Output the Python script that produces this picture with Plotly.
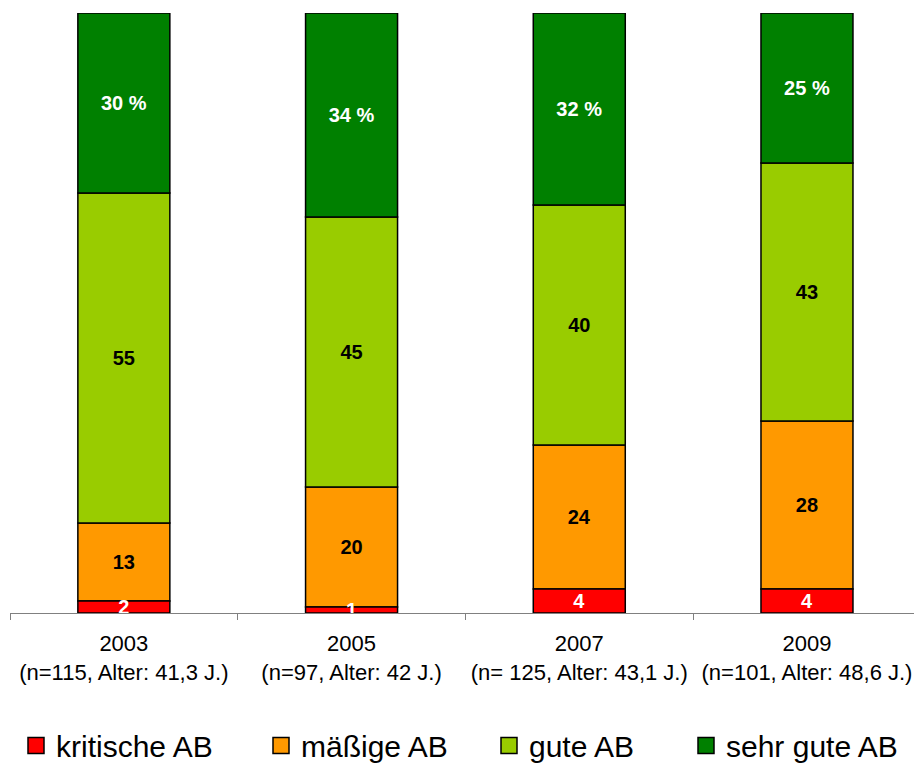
import plotly.graph_objects as go

years = ["2003", "2005", "2007", "2009"]
subtitles = ["(n=115, Alter: 41,3 J.)", "(n=97, Alter: 42 J.)",
             "(n= 125, Alter: 43,1 J.)", "(n=101, Alter: 48,6 J.)"]
series_names = ["kritische AB", "mäßige AB", "gute AB", "sehr gute AB"]
kritische = [2, 1, 4, 4]
maessige = [13, 20, 24, 28]
gute = [55, 45, 40, 43]
sehr_gute = [30, 34, 32, 25]

colors = ["#FF0000", "#FF9900", "#99CC00", "#008000"]
text_colors = ["white", "black", "black", "white"]
templates = ["%{customdata}", "%{customdata}", "%{customdata}", "%{customdata} %"]
legend_ids = ["legend", "legend2", "legend3", "legend4"]
legend_x = [6 / 904, 251 / 904, 479 / 904, 676 / 904]

cats = [f"{y}<br>{s}" for y, s in zip(years, subtitles)]
FONT = "Liberation Sans, Arial, sans-serif"

series = [kritische, maessige, gute, sehr_gute]
# stacked bases computed from the data
bases = []
running = [0] * len(years)
for vals in series:
    bases.append(list(running))
    running = [r + v for r, v in zip(running, vals)]

fig = go.Figure()
# draw red last so its labels sit on top of the neighbouring segment
draw_order = [1, 2, 3, 0]
for i in draw_order:
    fig.add_trace(go.Bar(
        x=cats, y=series[i], base=bases[i], customdata=series[i],
        name=series_names[i], width=0.404,
        marker=dict(color=colors[i], line=dict(color="black", width=1.5)),
        texttemplate=templates[i], textposition="inside", insidetextanchor="middle",
        textangle=0,
        textfont=dict(color=text_colors[i], size=20, family=FONT, weight="bold"),
        constraintext="none", showlegend=False, cliponaxis=False,
    ))
for i in range(4):
    fig.add_trace(go.Scatter(
        x=[None], y=[None], mode="markers", name=series_names[i], legend=legend_ids[i],
        marker=dict(symbol="square", size=16, color=colors[i],
                    line=dict(color="black", width=1.5)),
        showlegend=True,
    ))

legend_common = dict(orientation="h", xanchor="left", y=-0.221, yanchor="middle",
                     font=dict(size=30, family=FONT, color="black"), itemsizing="trace",
                     itemwidth=30, bgcolor="rgba(0,0,0,0)")

layout_legends = {}
for lid, lx in zip(legend_ids, legend_x):
    layout_legends[lid] = dict(x=lx, **legend_common)

fig.update_layout(
    barmode="overlay",
    width=914, height=763,
    margin=dict(l=10, r=0, t=13, b=150, autoexpand=False),
    plot_bgcolor="white", paper_bgcolor="white",
    font=dict(family=FONT, color="black"),
    uniformtext=dict(minsize=20, mode="show"),
    xaxis=dict(range=[-0.5, 3.47], showline=True, linecolor="#808080", linewidth=1,
               ticks="outside", tickson="boundaries", ticklen=6, tickcolor="#808080",
               ticklabelstandoff=11, automargin=False,
               tickfont=dict(size=22, family=FONT, color="black"), showgrid=False),
    yaxis=dict(range=[0, 100], visible=False, showgrid=False),
    **layout_legends,
)

fig.write_html("out.html")
